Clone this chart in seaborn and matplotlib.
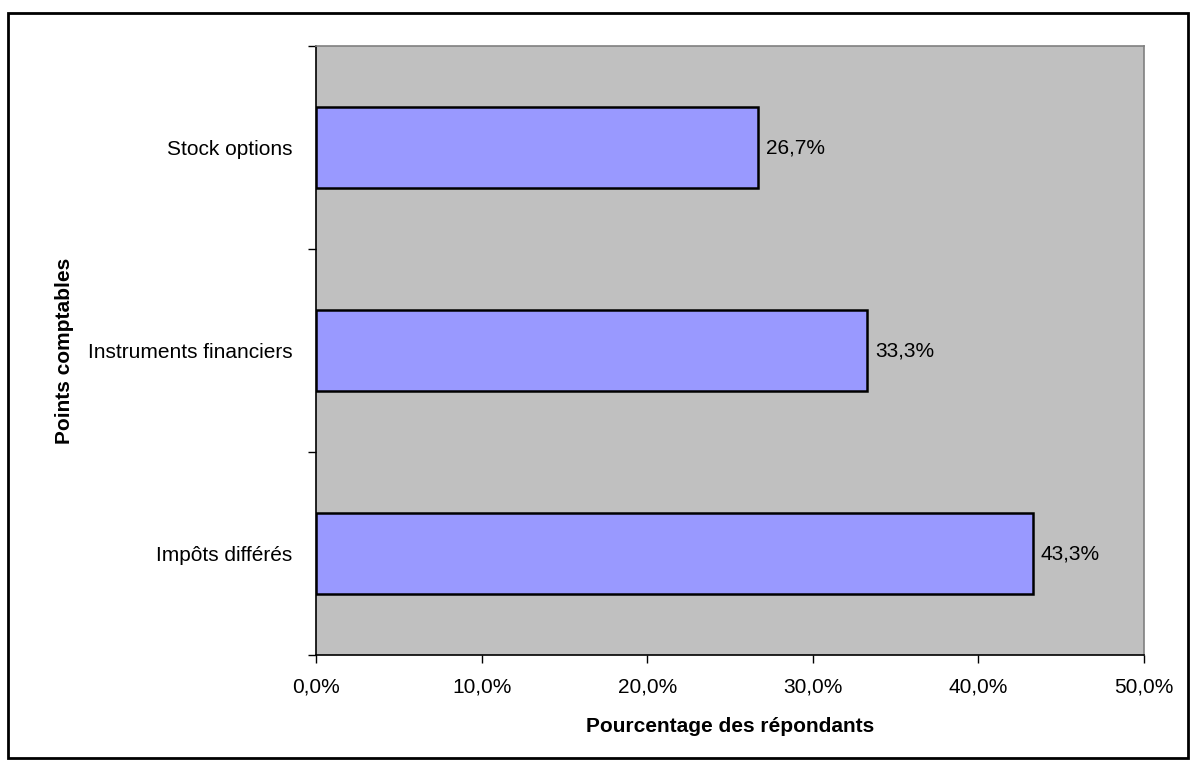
import matplotlib
matplotlib.use('Agg')
import matplotlib.pyplot as plt
import matplotlib.patches as mpatches
from matplotlib.ticker import FuncFormatter, FixedLocator
import pandas as pd
import seaborn as sns

categories = ['Stock options', 'Instruments financiers', 'Impôts différés']
values = [26.7, 33.3, 43.3]
xticks = [0, 10, 20, 30, 40, 50]

df = pd.DataFrame({'cat': categories, 'val': values})

sns.set_style('white')
plt.rcParams['font.family'] = ['Liberation Sans', 'DejaVu Sans']
plt.rcParams['text.color'] = 'black'
plt.rcParams['axes.labelcolor'] = 'black'
plt.rcParams['xtick.color'] = 'black'
plt.rcParams['ytick.color'] = 'black'

fig = plt.figure(figsize=(11.97, 7.67), dpi=100)
ax = fig.add_axes([316 / 1197, 1 - 655 / 767, 828 / 1197, 609 / 767])

sns.barplot(data=df, x='val', y='cat', order=categories, orient='h',
            color='#9999FF', saturation=1, width=0.4,
            edgecolor='black', linewidth=1.8, ax=ax)

ax.set_facecolor('#C0C0C0')
ax.set_xlim(0, 50)
ax.set_ylim(2.5, -0.5)
ax.set_xticks(xticks)
ax.xaxis.set_major_formatter(FuncFormatter(lambda v, p: f'{v:.1f}%'.replace('.', ',')))
ax.tick_params(axis='x', direction='out', length=6, width=1, colors='black',
               labelsize=15, pad=10, bottom=True)

ax.yaxis.set_minor_locator(FixedLocator([-0.5, 0.5, 1.5, 2.5]))
ax.tick_params(axis='y', which='major', length=0, labelsize=15, pad=17,
               labelcolor='black')
ax.tick_params(axis='y', which='minor', direction='out', length=6, width=1,
               color='black', left=True)

for s in ['left', 'bottom']:
    ax.spines[s].set_color('black')
    ax.spines[s].set_linewidth(1.2)
for s in ['top', 'right']:
    ax.spines[s].set_color('#808080')
    ax.spines[s].set_linewidth(1.2)

for i, v in enumerate(values):
    ax.text(v + 0.45, i, f'{v:.1f}%'.replace('.', ','), va='center', ha='left',
            fontsize=15, color='black')

ax.set_xlabel('Pourcentage des répondants', fontsize=15, fontweight='bold',
              labelpad=15, color='black')
ax.set_ylabel('Points comptables', fontsize=15, fontweight='bold',
              labelpad=10, color='black')

fig.patches.append(mpatches.Rectangle((8 / 1197, 1 - 758 / 767), 1180 / 1197, 745 / 767,
                                      transform=fig.transFigure, fill=False,
                                      edgecolor='black', linewidth=2))

fig.savefig('out.png', dpi=100)
